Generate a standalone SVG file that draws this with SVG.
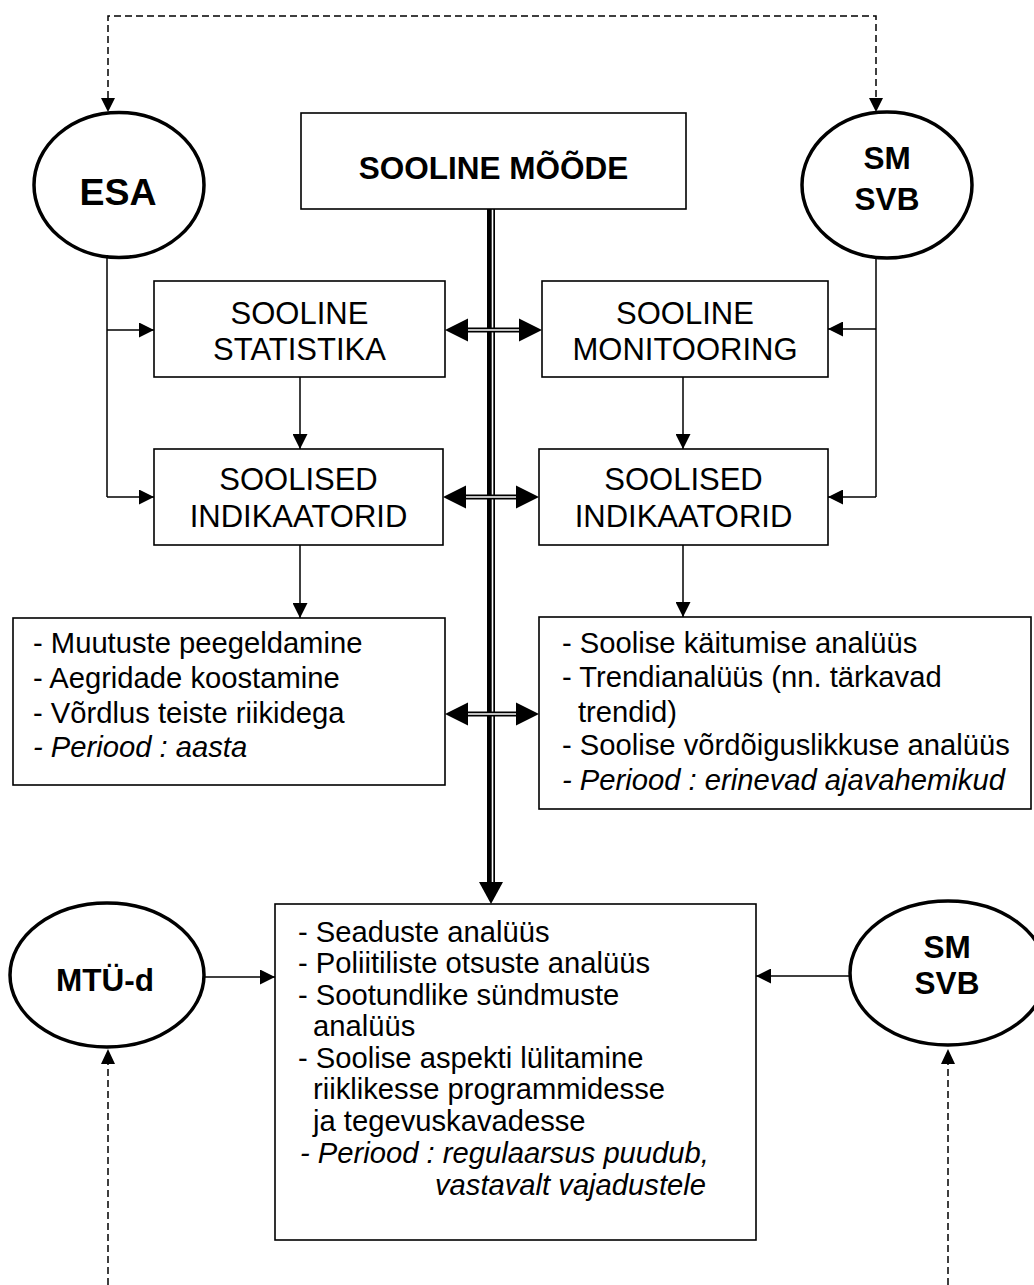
<svg xmlns="http://www.w3.org/2000/svg" width="1034" height="1285" viewBox="0 0 1034 1285">
<style>
.box{fill:#fff;stroke:#000;stroke-width:1.6}
.ell{fill:#fff;stroke:#000;stroke-width:3.5}
.ln{fill:none;stroke:#000;stroke-width:1.5}
.dash{fill:none;stroke:#000;stroke-width:1.5;stroke-dasharray:7 4}
.t{font-family:"Liberation Sans",Arial,sans-serif;fill:#000}
.b{font-weight:bold;font-size:31.5px;text-anchor:middle}
.h{font-size:31px;text-anchor:middle}
.s{font-size:29.2px}
.i{font-style:italic}
.dl{fill:none;stroke:#000;stroke-width:5}
.dw{fill:none;stroke:#fff;stroke-width:1.6}
</style>
<defs>
<marker id="ar" markerUnits="userSpaceOnUse" markerWidth="15" markerHeight="15" refX="15" refY="7.5" orient="auto"><path d="M0,0 L15,7.5 L0,15 z" fill="#000"/></marker>
</defs>
<rect width="1034" height="1285" fill="#fff"/>
<g id="connectors">
<path class="dash" d="M108,98 V16 H876 V98"/>
<path d="M101,98 L115,98 L108,112 z M869,98 L883,98 L876,112 z" fill="#000"/>
<path class="ln" d="M107,257 V497 M876,258 V497"/>
<path class="ln" d="M107,330 H154" marker-end="url(#ar)"/>
<path class="ln" d="M107,497 H154" marker-end="url(#ar)"/>
<path class="ln" d="M876,329 H828" marker-end="url(#ar)"/>
<path class="ln" d="M876,497 H828" marker-end="url(#ar)"/>
<path class="ln" d="M300,377 V449" marker-end="url(#ar)"/>
<path class="ln" d="M683,377 V449" marker-end="url(#ar)"/>
<path class="ln" d="M300,545 V618" marker-end="url(#ar)"/>
<path class="ln" d="M683,545 V617" marker-end="url(#ar)"/>
<path class="ln" d="M204,977 H275" marker-end="url(#ar)"/>
<path class="ln" d="M850,976 H756" marker-end="url(#ar)"/>
<path class="dash" d="M108,1285 V1064 M948,1285 V1064"/>
<path d="M101,1064 L115,1064 L108,1049 z M941,1064 L955,1064 L948,1049 z" fill="#000"/>
<rect x="487" y="209" width="8" height="675" fill="#000"/>
<rect x="491.7" y="209" width="1.6" height="675" fill="#fff"/>
<path d="M479,882 L503,882 L491,904 z" fill="#000"/>
<path class="dl" d="M466,330 H520 M464,497 H518 M466,714 H518"/>
<path class="dw" d="M466,330 H520 M464,497 H518 M466,714 H518"/>
<path d="M445,330 L468,318.5 L468,341.5 z M542,330 L519,318.5 L519,341.5 z M443,497 L466,485.5 L466,508.5 z M539,497 L516,485.5 L516,508.5 z M445,714 L468,702.5 L468,725.5 z M539,714 L516,702.5 L516,725.5 z" fill="#000"/>
</g>
<g id="esa"><ellipse class="ell" cx="119" cy="185" rx="85" ry="72.5"/><text class="t b" x="118" y="205" style="font-size:37.5px">ESA</text></g>
<g id="smsvb-top"><ellipse class="ell" cx="887" cy="185" rx="85" ry="73"/><text class="t b" x="887" y="169">SM</text><text class="t b" x="887" y="210">SVB</text></g>
<g id="sooline-moode"><rect class="box" x="301" y="113" width="385" height="96"/><text class="t b" x="493.5" y="179">SOOLINE MÕÕDE</text></g>
<g id="statistika"><rect class="box" x="154" y="281" width="291" height="96"/><text class="t h" x="299.5" y="324">SOOLINE</text><text class="t h" x="299.5" y="360">STATISTIKA</text></g>
<g id="monitooring"><rect class="box" x="542" y="281" width="286" height="96"/><text class="t h" x="685" y="324">SOOLINE</text><text class="t h" x="685" y="360">MONITOORING</text></g>
<g id="indikaatorid-left"><rect class="box" x="154" y="449" width="289" height="96"/><text class="t h" x="298.5" y="490">SOOLISED</text><text class="t h" x="298.5" y="527">INDIKAATORID</text></g>
<g id="indikaatorid-right"><rect class="box" x="539" y="449" width="289" height="96"/><text class="t h" x="683.5" y="490">SOOLISED</text><text class="t h" x="683.5" y="527">INDIKAATORID</text></g>
<g id="stat-list"><rect class="box" x="13" y="618" width="432" height="167"/>
<text class="t s" x="33" y="653">- Muutuste peegeldamine</text>
<text class="t s" x="33" y="688">- Aegridade koostamine</text>
<text class="t s" x="33" y="723">- Võrdlus teiste riikidega</text>
<text class="t s i" x="33" y="757">- Periood : aasta</text></g>
<g id="mon-list"><rect class="box" x="539" y="617" width="492" height="192"/>
<text class="t s" x="562" y="653">- Soolise käitumise analüüs</text>
<text class="t s" x="562" y="687">- Trendianalüüs (nn. tärkavad</text>
<text class="t s" x="578" y="722">trendid)</text>
<text class="t s" x="562" y="755">- Soolise võrdõiguslikkuse analüüs</text>
<text class="t s i" x="562" y="790">- Periood : erinevad ajavahemikud</text></g>
<g id="analysis"><rect class="box" x="275" y="904" width="481" height="336"/>
<text class="t s" x="298" y="942">- Seaduste analüüs</text>
<text class="t s" x="298" y="973">- Poliitiliste otsuste analüüs</text>
<text class="t s" x="298" y="1005">- Sootundlike sündmuste</text>
<text class="t s" x="313" y="1036">analüüs</text>
<text class="t s" x="298" y="1068">- Soolise aspekti lülitamine</text>
<text class="t s" x="313" y="1099">riiklikesse programmidesse</text>
<text class="t s" x="313" y="1131">ja tegevuskavadesse</text>
<text class="t s i" x="300" y="1163">- Periood : regulaarsus puudub,</text>
<text class="t s i" x="435" y="1195">vastavalt vajadustele</text></g>
<g id="mtud"><ellipse class="ell" cx="107" cy="975" rx="97" ry="72"/><text class="t b" x="105" y="991">MTÜ-d</text></g>
<g id="smsvb-bottom"><ellipse class="ell" cx="948" cy="973" rx="98" ry="72"/><text class="t b" x="947" y="958">SM</text><text class="t b" x="947" y="994">SVB</text></g>
</svg>
